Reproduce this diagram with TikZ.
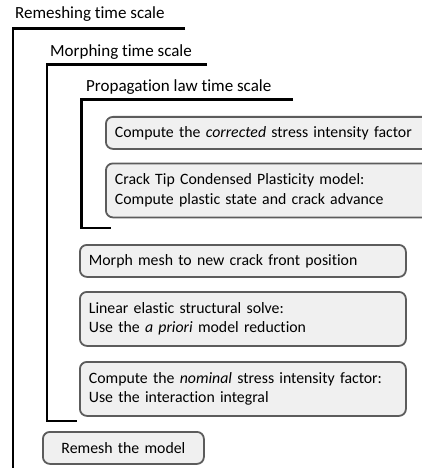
\documentclass[tikz,border=0pt]{standalone}
\usepackage{fontspec}
\setmainfont{Carlito}[Ligatures=NoCommon]
\usetikzlibrary{positioning}
\definecolor{boxfill}{RGB}{240,240,240}
\definecolor{boxline}{RGB}{92,92,92}
\tikzset{
  stepbox/.style={draw=boxline,fill=boxfill,line width=1.8pt,rounded corners=7pt,
    anchor=north west,align=left,inner xsep=9pt,inner ysep=0pt,
    minimum height=#1,font=\fontsize{15.8}{19.6}\selectfont},
  stepbox/.default=32pt,
  scaletitle/.style={anchor=base west,inner sep=0pt,font=\fontsize{17}{20}\selectfont},
  scaleline/.style={draw=black,line width=2.4pt},
}
\begin{document}
\begin{tikzpicture}[x=1pt,y=-1pt]
  \useasboundingbox (0,0) rectangle (422,468);
  \clip (0,0) rectangle (422,468);
  % time scale brackets
  \node[scaletitle] (remeshtitle) at (15,19) {Remeshing time scale};
  \draw[scaleline] (185,28.5) -| (13,470);
  \node[scaletitle] (morphtitle) at (50,57) {Morphing time scale};
  \draw[scaleline] (207,64.5) -| (47,421) -- (77,421);
  \node[scaletitle] (proptitle) at (86,92) {Propagation law time scale};
  \draw[scaleline] (293,99.5) -| (81.5,228) -- (111,228);
  % steps
  \node[stepbox,text width=322pt] (corrected) at (105,116)
    {Compute the \emph{corrected} stress intensity factor};
  \node[stepbox=54pt,text width=322pt] (ctcp) at (105,162.5)
    {Crack Tip Condensed Plasticity model:\\Compute plastic state and crack advance};
  \node[stepbox,text width=308pt] (morph) at (79,244)
    {Morph mesh to new crack front position};
  \node[stepbox=54pt,text width=308pt] (solve) at (79,291)
    {Linear elastic structural solve:\\Use the \emph{a priori} model reduction};
  \node[stepbox=54pt,text width=308pt] (nominal) at (79,361)
    {Compute the \emph{nominal} stress intensity factor:\\Use the interaction integral};
  \node[stepbox,text width=143pt,align=center] (remesh) at (42,431)
    {Remesh the model};
\end{tikzpicture}
\end{document}
